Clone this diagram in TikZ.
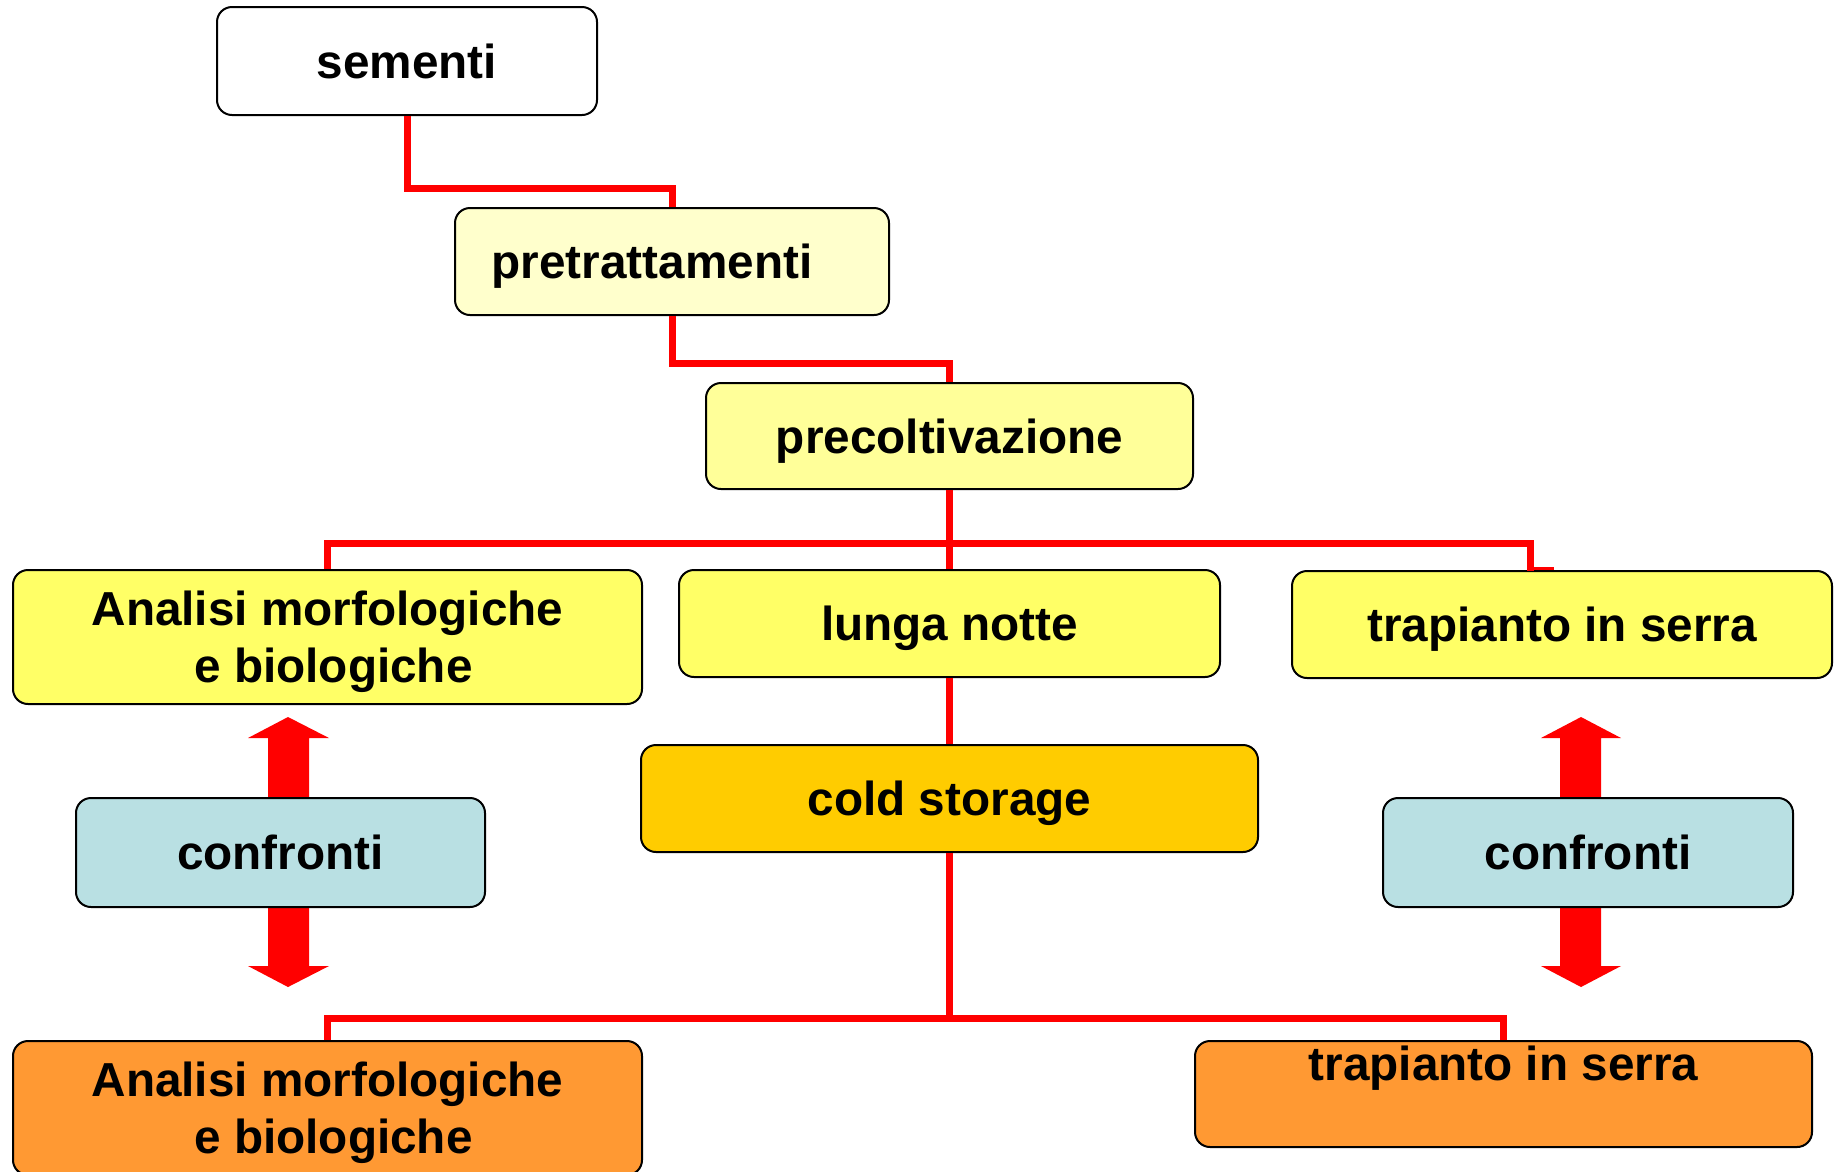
\documentclass[tikz,border=0pt]{standalone}
\usepackage{fontspec}
\setmainfont{Liberation Sans}
\usetikzlibrary{calc}
\definecolor{lyel}{HTML}{FFFFCC}
\definecolor{myel}{HTML}{FFFF99}
\definecolor{yel}{HTML}{FFFF66}
\definecolor{gold}{HTML}{FFCC00}
\definecolor{lblue}{HTML}{B9E0E3}
\definecolor{orng}{HTML}{FF9933}
\definecolor{lred}{HTML}{FF0000}
\begin{document}
\begin{tikzpicture}[x=1pt,y=-1pt,
  box/.style={draw=black,line width=2pt,rounded corners=15pt,inner sep=0pt,
    font=\fontsize{47.7}{57}\selectfont\bfseries,align=center},
  one/.style={text height=34.3pt,text depth=0pt},
  conn/.style={draw=lred,line width=7pt},
  bigarrow/.style={fill=lred}]
\clip (0,0) rectangle (1838,1171);
\fill[white] (0,0) rectangle (1838,1171);

\coordinate (tj) at (1530,571);

% arrows
\fill[bigarrow] (288,717) -- (329,738) -- (309,738) -- (309,800) -- (268,800) -- (268,738) -- (248,738) -- cycle;
\fill[bigarrow] (288,987) -- (329,966) -- (309,966) -- (309,905) -- (268,905) -- (268,966) -- (248,966) -- cycle;
\fill[bigarrow] (1581,717) -- (1621,738) -- (1601,738) -- (1601,800) -- (1560,800) -- (1560,738) -- (1541,738) -- cycle;
\fill[bigarrow] (1581,987) -- (1621,966) -- (1601,966) -- (1601,905) -- (1560,905) -- (1560,966) -- (1541,966) -- cycle;

% boxes
\node[box,one,fill=white,minimum width=380pt,minimum height=108pt] (sem) at (407,61) {sementi};
\node[box,one,fill=lyel,minimum width=434pt,minimum height=107pt] (pret) at (672,261.5) {\hspace*{-40pt}pretrattamenti};
\node[box,one,fill=myel,minimum width=487pt,minimum height=106pt] (prec) at (949.5,436) {precoltivazione};
\node[box,fill=yel,minimum width=629pt,minimum height=134pt,text depth=0pt] (anT) at (327.5,637) {Analisi morfologiche\\\hspace*{12pt}e biologiche};
\node[box,one,fill=yel,minimum width=541pt,minimum height=107pt] (lun) at (949.5,623.5) {lunga notte};
\node[box,one,fill=yel,minimum width=540pt,minimum height=107pt] (trT) at (1562,624.5) {trapianto in serra};
\node[box,one,fill=lblue,minimum width=409pt,minimum height=109pt] (confL) at (280.5,852.5) {confronti};
\node[box,one,fill=gold,minimum width=617pt,minimum height=107pt] (cold) at (949.5,798.5) {cold storage};
\node[box,one,fill=lblue,minimum width=410pt,minimum height=109pt] (confR) at (1588,852.5) {confronti};
\node[box,fill=orng,minimum width=629pt,minimum height=134pt,text depth=0pt] (anB) at (327.5,1108) {Analisi morfologiche\\\hspace*{12pt}e biologiche};
\node[box,fill=orng,minimum width=617pt,minimum height=106pt,text height=34.3pt,text depth=62pt] (trB) at (1503.5,1094) {trapianto in serra};

% connectors
\draw[conn] (sem.south) -- ++(0,72) -| (pret.north);
\draw[conn] (pret.south) -- ++(0,47) -| (prec.north);
\draw[conn] (prec.south) -- (lun.north);
\draw[conn] (anT.north) -- ++(0,-26) -| (tj);
\draw[lred,line width=2.5pt] (1530,568.5) -- (1554,568.5);
\draw[conn] (lun.south) -- (cold.north);
\draw[conn] (cold.south) -- ++(0,167);
\draw[conn] (anB.north) -- ++(0,-22) -| (trB.north);
\end{tikzpicture}
\end{document}
